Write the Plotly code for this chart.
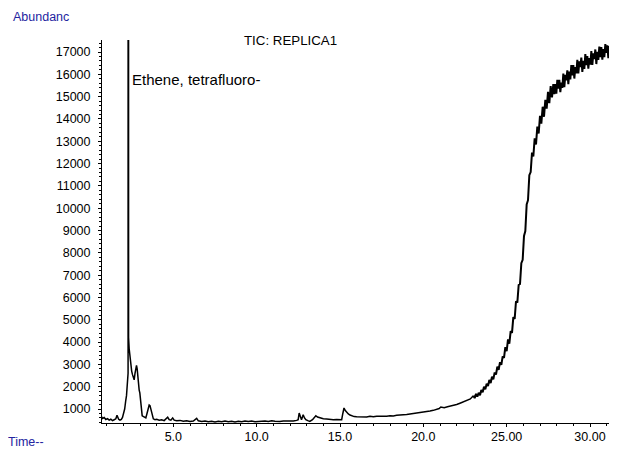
import plotly.graph_objects as go

# retention time (min) / abundance in segments
rt_early = [0.66, 0.75, 0.85, 0.95, 1.05, 1.15, 1.25, 1.35, 1.45, 1.55, 1.62, 1.66, 1.72, 1.80,
            1.88, 1.95, 2.02, 2.08, 2.14, 2.19, 2.285, 2.30, 2.315, 2.35, 2.40, 2.45, 2.50, 2.55,
            2.60, 2.65, 2.70, 2.75, 2.79, 2.83, 2.89, 2.95, 2.99, 3.03, 3.07, 3.13, 3.19, 3.27,
            3.35, 3.42, 3.49, 3.55, 3.60, 3.65, 3.72, 3.80, 3.90]
ab_early = [700, 580, 620, 530, 570, 500, 540, 480, 520, 560, 720, 650, 540, 500,
            530, 620, 800, 1000, 1350, 1600, 2600, 120000, 4200, 3700, 3300, 2900, 2700, 2540,
            2350, 2310, 2600, 2900, 2960, 2800, 2050, 1850, 1720, 1400, 850, 700, 670, 620,
            600, 800, 1050, 1180, 1150, 1000, 750, 560, 520]

rt_base = [4.00, 4.15, 4.30, 4.45, 4.60, 4.66, 4.75, 4.85, 4.96, 5.05, 5.20, 5.40, 5.60, 5.80,
           6.00, 6.20, 6.40, 6.50, 6.70, 6.90, 7.10, 7.30, 7.50, 7.70, 7.90, 8.10, 8.30, 8.50,
           8.70, 8.90, 9.10, 9.30, 9.50, 9.70, 9.90, 10.10, 10.30, 10.50, 10.70, 10.90, 11.10,
           11.30, 11.39, 11.60, 11.80, 12.00, 12.20, 12.40, 12.49, 12.55, 12.62, 12.69, 12.75,
           12.79, 12.87, 12.95, 13.07, 13.19, 13.35, 13.48, 13.55, 13.65, 13.80, 14.00, 14.20,
           14.40, 14.60, 14.80, 15.00, 15.10, 15.17, 15.24, 15.32, 15.40, 15.50, 15.60, 15.70,
           15.85, 16.00, 16.20, 16.40, 16.60, 16.80, 17.00, 17.20, 17.41, 17.60, 17.80, 18.00,
           18.20, 18.40, 18.61, 18.80, 19.00, 19.20, 19.40, 19.60, 19.82, 20.00, 20.20, 20.40,
           20.60, 20.83, 20.95, 21.05, 21.13, 21.25, 21.45, 21.65, 21.83, 22.00, 22.20, 22.40,
           22.63, 22.82]
ab_base = [540, 500, 520, 480, 560, 630, 520, 500, 600, 500, 470, 490, 450, 470,
           440, 460, 580, 470, 440, 460, 430, 450, 420, 450, 430, 460, 430, 450,
           420, 450, 430, 460, 440, 460, 430, 450, 440, 460, 440, 470, 450,
           470, 445, 460, 450, 470, 460, 490, 520, 820, 650, 520, 650,
           745, 600, 520, 480, 445, 520, 650, 700, 640, 600, 560, 550,
           530, 520, 530, 520, 520, 800, 1045, 930, 850, 780, 730, 700,
           660, 650, 640, 660, 640, 670, 650, 680, 670, 690, 680, 700,
           690, 720, 715, 740, 750, 770, 780, 800, 820, 850, 880, 910,
           940, 970, 1020, 1090, 1080, 1060, 1100, 1130, 1150, 1200, 1260, 1320,
           1385, 1450]

rt_rise = [23.00, 23.08, 23.16, 23.24, 23.32, 23.40, 23.48, 23.56, 23.64, 23.72, 23.80, 23.88,
           23.96, 24.04, 24.12, 24.20, 24.28, 24.36, 24.44, 24.52, 24.60, 24.68, 24.76, 24.84,
           24.92, 25.00, 25.08, 25.16, 25.24, 25.32, 25.40, 25.48, 25.56, 25.64, 25.72, 25.80,
           25.88, 25.96, 26.04, 26.12, 26.20, 26.28, 26.36, 26.44, 26.52, 26.60, 26.68, 26.76,
           26.84, 26.92, 27.00, 27.08, 27.16, 27.24, 27.32, 27.40, 27.48, 27.56, 27.64, 27.72]
ab_rise = [1595, 1490, 1680, 1555, 1730, 1620, 1855, 1755, 2000, 1885, 2135, 2030,
           2300, 2165, 2445, 2330, 2640, 2545, 2895, 2760, 3105, 2975, 3360, 3295,
           3770, 3590, 4120, 3930, 4490, 4410, 5120, 5040, 5830, 5770, 6560, 6600,
           7540, 7690, 8760, 8980, 10170, 10360, 11480, 11620, 12490, 12320, 13130, 12860,
           13660, 13350, 14140, 13790, 14550, 14100, 14860, 14460, 15220, 14710, 15470, 14970]

rt_plateau = [27.80, 27.86, 27.92, 27.98, 28.04, 28.10, 28.16, 28.22, 28.28, 28.34, 28.40, 28.46,
              28.52, 28.58, 28.64, 28.70, 28.76, 28.82, 28.88, 28.94, 29.00, 29.06, 29.12, 29.18,
              29.24, 29.30, 29.36, 29.42, 29.48, 29.54, 29.60, 29.66, 29.72, 29.78, 29.84, 29.90,
              29.96, 30.02, 30.08, 30.14, 30.20, 30.26, 30.32, 30.38, 30.44, 30.50, 30.56, 30.62,
              30.68, 30.74, 30.80, 30.86, 30.92, 30.98, 31.04, 31.10, 31.16, 31.22, 31.28, 31.34,
              31.40, 31.46, 31.52, 31.58, 31.64, 31.70]
ab_plateau = [15566, 15118, 15562, 15132, 15756, 15362, 15752, 15206, 15632, 15396, 16040, 15424,
              15978, 15730, 16176, 15560, 16124, 15778, 16412, 15948, 16420, 15812, 16328, 16044,
              16650, 16042, 16586, 16328, 16754, 16108, 16606, 16240, 16908, 16416, 16824, 16250,
              16730, 16436, 17042, 16424, 16940, 16682, 17116, 16462, 17014, 16648, 17244, 16770,
              17222, 16658, 17128, 16770, 17356, 16962, 17296, 16730, 17272, 16868, 17310, 16834,
              17400, 16962, 17420, 16838, 17440, 16966]

y_ticks = list(range(1000, 18000, 1000))
x_ticks = [5, 10, 15, 20, 25, 30]
x_labels = ["5.0", "10.0", "15.0", "20.0", "25.00", "30.00"]

FONT = "Liberation Sans, Arial, sans-serif"
BLUE = "#2424a0"

fig = go.Figure()
# baseline part
fig.add_trace(go.Scatter(x=rt_early + rt_base + rt_rise[:1], y=ab_early + ab_base + ab_rise[:1],
                         mode="lines", line=dict(color="black", width=1.5), hoverinfo="skip"))
# noisy column-bleed rise, drawn a bit heavier
fig.add_trace(go.Scatter(x=rt_rise + rt_plateau, y=ab_rise + ab_plateau,
                         mode="lines", line=dict(color="black", width=2), hoverinfo="skip"))

axis_common = dict(showgrid=False, zeroline=False, showline=True, linecolor="black",
                   linewidth=1, ticks="outside", tickcolor="black", ticklen=3,
                   tickfont=dict(family=FONT, size=12.5, color="black"))

fig.update_xaxes(range=[0.72, 31.62], tickvals=x_ticks, ticktext=x_labels,
                 ticklabelstandoff=-1,
                 minor=dict(ticks="outside", ticklen=2, dtick=1, tickcolor="black"),
                 **axis_common)
fig.update_yaxes(range=[373, 17540], tickvals=y_ticks, tickformat="d",
                 ticklabelstandoff=5,
                 minor=dict(ticks="outside", ticklen=2, tick0=0, dtick=200, tickcolor="black"),
                 **axis_common)

# the page body adds an 8px offset, so the figure is drawn 8px smaller
fig.add_annotation(xref="paper", yref="paper", x=-0.1765, y=1.06, xanchor="left",
                   yanchor="middle", text="Abundanc", showarrow=False,
                   font=dict(family=FONT, size=12.5, color=BLUE))
fig.add_annotation(xref="paper", yref="paper", x=-0.186, y=-0.05, xanchor="left",
                   yanchor="middle", text="Time--", showarrow=False,
                   font=dict(family=FONT, size=12.5, color=BLUE))
fig.add_annotation(xref="paper", yref="paper", x=0.366, y=1.0, xanchor="center",
                   yanchor="middle", text="TIC: REPLICA1", showarrow=False,
                   font=dict(family=FONT, size=13.3, color="black"))
fig.add_annotation(xref="paper", yref="paper", x=0.054, y=0.8957, xanchor="left",
                   yanchor="middle", text="Ethene, tetrafluoro-", showarrow=False,
                   font=dict(family=FONT, size=15, color="black"))

fig.update_layout(width=609, height=447, margin=dict(l=94, r=0, t=32, b=32),
                  paper_bgcolor="white", plot_bgcolor="white", showlegend=False)

fig.write_html("out.html")
